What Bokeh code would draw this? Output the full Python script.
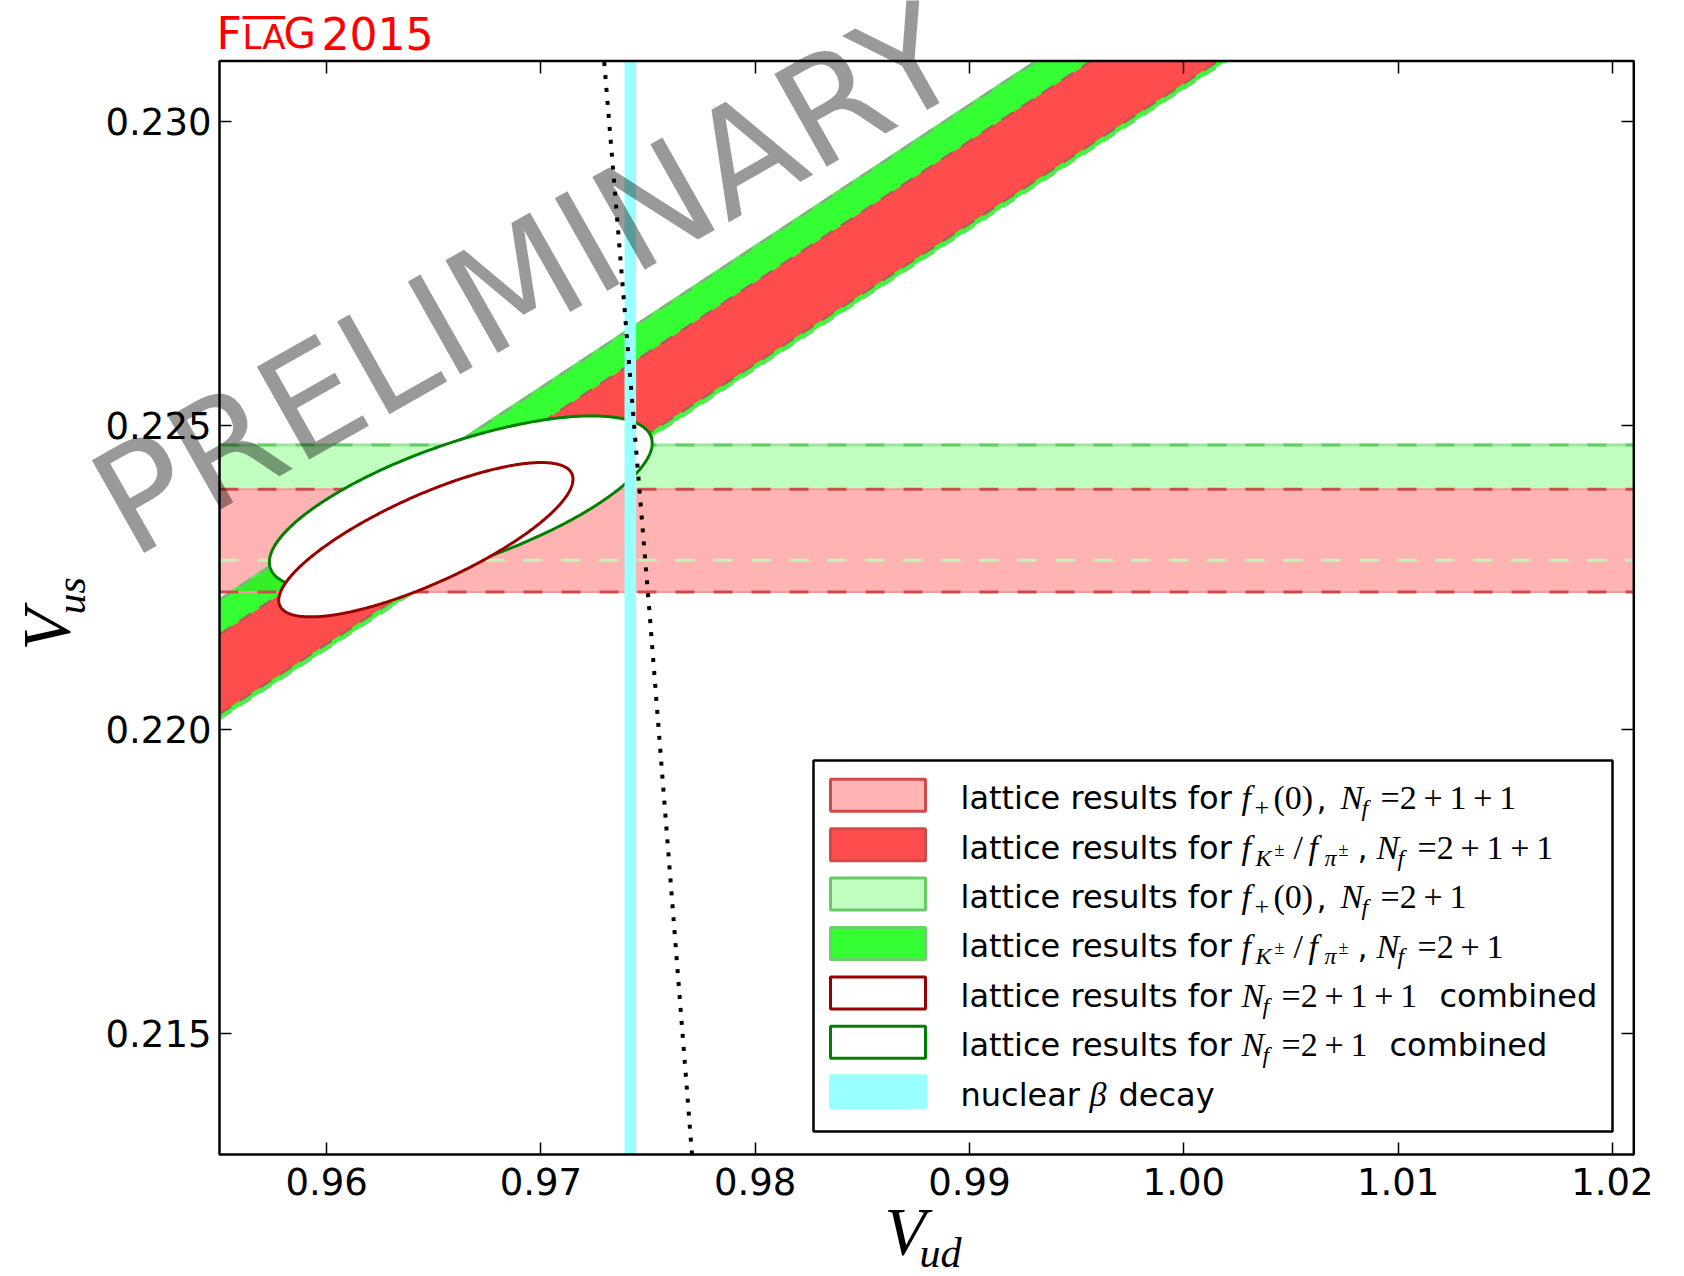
import numpy as np
from bokeh.plotting import figure
from bokeh.models import Range1d, FixedTicker, Label, BoxAnnotation, LinearAxis
from bokeh.embed import file_html
from bokeh.resources import INLINE

# ---------------- data ----------------
x_ticks = [0.96, 0.97, 0.98, 0.99, 1.00, 1.01, 1.02]
x_tick_labels = ["0.96", "0.97", "0.98", "0.99", "1.00", "1.01", "1.02"]
y_ticks = [0.215, 0.220, 0.225, 0.230]
y_tick_labels = ["0.215", "0.220", "0.225", "0.230"]
x_limits = [0.955, 1.021]
y_limits = [0.213, 0.231]

# V_us bands from f+(0)  [lower, upper]
vus_fplus_2p1p1 = [0.22226, 0.22395]
vus_fplus_2p1 = [0.22278, 0.22468]
# V_us / V_ud ratio bands from fK/fpi  [lower, upper]
ratio_fk_2p1 = [0.23054, 0.23260]
ratio_fk_2p1p1 = [0.23063, 0.23200]
# nuclear beta decay V_ud band [lower, upper]
vud_beta = [0.97390, 0.97444]
# combined ellipses: centre V_ud, centre V_us, sigma V_ud, sigma V_us, correlation
ellipse_2p1 = [0.96626, 0.22373, 0.008932, 0.001428, 0.6855]
ellipse_2p1p1 = [0.96463, 0.22312, 0.006866, 0.001270, 0.7837]
# unitarity curve points
unit_vus = [0.213, 0.222, 0.231]
unit_vud = [0.97705, 0.97505, 0.97295]

# ---------------- layout helpers (reference pixel frame) ----------------
REF_L, REF_R, REF_T, REF_B = 219.0, 1633.3, 60.5, 1154.0


def dx(px):
    return x_limits[0] + (px - REF_L) / (REF_R - REF_L) * (x_limits[1] - x_limits[0])


def dy(py):
    return y_limits[1] - (py - REF_T) / (REF_B - REF_T) * (y_limits[1] - y_limits[0])


W, H = 1684, 1276
p = figure(width=W, height=H,
           x_range=Range1d(dx(0), dx(W)), y_range=Range1d(dy(H), dy(0)),
           output_backend="svg", toolbar_location=None,
           min_border=0, min_border_left=0, min_border_right=0,
           min_border_top=0, min_border_bottom=0,
           background_fill_color="white", border_fill_color="white")
p.grid.visible = False
p.outline_line_color = None

for ax, ticks, labels, loc, std in ((p.xaxis[0], x_ticks, x_tick_labels, y_limits[0], 13),
                                    (p.yaxis[0], y_ticks, y_tick_labels, x_limits[0], 8)):
    ax.fixed_location = loc
    ax.ticker = FixedTicker(ticks=ticks)
    ax.major_label_overrides = {t: l for t, l in zip(ticks, labels)}
    ax.major_tick_in = 12
    ax.major_tick_out = 0
    ax.major_tick_line_width = 1.5
    ax.minor_tick_line_color = None
    ax.axis_line_color = None
    ax.major_label_text_font = "DejaVu Sans"
    ax.major_label_text_font_size = "37px"
    ax.major_label_text_color = "black"
    ax.major_label_standoff = std
    ax.axis_label = None

for ticks, side, loc in ((x_ticks, "above", y_limits[1]), (y_ticks, "right", x_limits[1])):
    ax = LinearAxis(ticker=FixedTicker(ticks=ticks), fixed_location=loc,
                    major_tick_in=12, major_tick_out=0,
                    major_tick_line_width=1.5, minor_tick_line_color=None,
                    axis_line_color=None, major_label_text_font_size="0px",
                    major_label_text_color=None)
    p.add_layout(ax, side)

xs = np.array(x_limits)
y_top = y_limits[1]

# horizontal f+(0) bands
p.quad(left=x_limits[0], right=x_limits[1], bottom=vus_fplus_2p1[0], top=vus_fplus_2p1[1],
       fill_color="#c0ffc0", line_color=None)
p.quad(left=x_limits[0], right=x_limits[1], bottom=vus_fplus_2p1p1[0], top=vus_fplus_2p1p1[1],
       fill_color="#ffb3b3", line_color=None)


def band_patch(r_lo, r_hi):
    x0 = x_limits[0]
    return ([x0, y_top / r_lo, y_top / r_hi, x0], [r_lo * x0, y_top, y_top, r_hi * x0])


def ray(r):
    x0 = x_limits[0]
    return [x0, y_top / r], [r * x0, y_top]


# diagonal fK/fpi bands (V_us = r * V_ud), clipped at the top of the frame
bx, by = band_patch(*ratio_fk_2p1)
p.patch(bx, by, fill_color="#00ff00", fill_alpha=0.8, line_color=None)
bx, by = band_patch(*ratio_fk_2p1p1)
p.patch(bx, by, fill_color="#ff4d4d", line_color=None)
p.line(*ray(ratio_fk_2p1[1]), line_color="#55e855", line_width=3)
p.line(*ray(ratio_fk_2p1[1]), line_color="#80b080", line_width=2.5, line_dash="14 10")
p.line(*ray(ratio_fk_2p1p1[1]), line_color="#b85a5a", line_width=2.5, line_dash="14 10")
p.line(*ray(ratio_fk_2p1p1[0]), line_color="#b85a5a", line_width=2.5, line_dash="14 10")
p.line(*ray(ratio_fk_2p1[0]), line_color="#66dd66", line_width=2.5, line_dash="14 10")

# dashed edges of horizontal bands
p.line(xs, [vus_fplus_2p1[1]] * 2, line_color="#9be89b", line_width=3)
p.line(xs, [vus_fplus_2p1[1]] * 2, line_color="#66cc66", line_width=3, line_dash="19 19")
p.line(xs, [vus_fplus_2p1[0]] * 2, line_color="#c4f2b8", line_width=3, line_dash="19 19")
for v in vus_fplus_2p1p1:
    p.line(xs, [v] * 2, line_color="#f59a9a", line_width=2)
    p.line(xs, [v] * 2, line_color="#cc4c4c", line_width=3, line_dash="19 19")

# combined ellipses
t = np.linspace(0, 2 * np.pi, 400)
for ell, col in ((ellipse_2p1, "#008000"), (ellipse_2p1p1, "#990000")):
    cx, cy, sx, sy, rho = ell
    ex = cx + sx * np.cos(t)
    ey = cy + sy * (rho * np.cos(t) + np.sqrt(1 - rho ** 2) * np.sin(t))
    p.patch(ex, ey, fill_color="white", line_color=col, line_width=3)

# nuclear beta decay band
p.quad(left=vud_beta[0], right=vud_beta[1], bottom=y_limits[0], top=y_limits[1],
       fill_color="#99ffff", line_color=None)

# unitarity
p.line(unit_vud, unit_vus, line_color="black", line_width=4, line_dash="4 9")

# frame box
p.add_layout(BoxAnnotation(left=x_limits[0], right=x_limits[1], bottom=y_limits[0], top=y_limits[1],
                           fill_color=None, line_color="black", line_alpha=1, line_width=2.5))

# ---------------- legend (manual, mixed fonts) ----------------
p.add_layout(BoxAnnotation(left=dx(813), right=dx(1612), top=dy(760), bottom=dy(1131),
                           fill_color="white", fill_alpha=1, line_color="black",
                           line_alpha=1, line_width=2.5))
row_c = [794.8 + 49.4 * i for i in range(7)]
swatches = [("#ffb3b3", "#cc4c4c"), ("#ff4d4d", "#cc4c4c"), ("#c0ffc0", "#66cc66"),
            ("#33ff33", "#66d466"), ("white", "#990000"), ("white", "#008000"),
            ("#99ffff", "#99ffff")]
for c, (fc, lc) in zip(row_c, swatches):
    p.add_layout(BoxAnnotation(left=dx(830), right=dx(925), top=dy(c - 16), bottom=dy(c + 16),
                               fill_color=fc, fill_alpha=1, line_color=lc, line_alpha=1,
                               line_width=3))

SANS, SERIF = "DejaVu Sans", "Liberation Serif"
TS = "\u2009"


def txt(px, py, s, font=SANS, style="normal", size=32, color="black", angle=0.0,
        alpha=1.0, level="annotation"):
    # (px, py): alphabetic baseline start in reference pixels; the label is
    # anchored at the middle of its text box, which sits above the baseline.
    k = 0.346 if font == SANS else 0.3375
    sh = k * size
    ax_ = px - sh * np.sin(angle)
    ay_ = py - sh * np.cos(angle)
    lab = Label(x=dx(ax_), y=dy(ay_), text=s, text_font=font, text_font_style=style,
                text_font_size=f"{size}px", text_color=color, text_alpha=alpha,
                angle=angle, text_align="left", text_baseline="middle", level=level)
    p.add_layout(lab)


EQ3 = "=2" + TS + "+" + TS + "1" + TS + "+" + TS + "1"
EQ2 = "=2" + TS + "+" + TS + "1"
frac_row = [("f", 1241, 0, "italic", 34), ("K", 1255, 7, "italic", 24), ("\u00b1", 1274, -3, "normal", 18),
            ("/", 1293, 0, "normal", 34), ("f", 1308, 0, "italic", 34), ("\u03c0", 1324, 7, "italic", 24),
            ("\u00b1", 1338, -3, "normal", 18), (",", 1357, 0, "sans", 32),
            ("N", 1376, 0, "italic", 34), ("f", 1397, 7, "italic", 24)]
fplus_row = [("f", 1241, 0, "italic", 34), ("+", 1254, 7, "normal", 26), ("(0)", 1273, 0, "normal", 34),
             (",", 1316, 0, "sans", 32), ("N", 1340, 0, "italic", 34), ("f", 1361, 7, "italic", 24)]
nf_row = [("N", 1241, 0, "italic", 34), ("f", 1262, 7, "italic", 24)]
rows = [
    fplus_row + [(EQ3, 1380, 0, "normal", 34)],
    frac_row + [(EQ3, 1417, 0, "normal", 34)],
    fplus_row + [(EQ2, 1380, 0, "normal", 34)],
    frac_row + [(EQ2, 1417, 0, "normal", 34)],
    nf_row + [(EQ3, 1281, 0, "normal", 34), ("combined", 1439, 0, "sans", 32)],
    nf_row + [(EQ2, 1281, 0, "normal", 34), ("combined", 1389, 0, "sans", 32)],
]
for c, segs in zip(row_c[:6], rows):
    base = c + 14
    txt(960, base, "lattice results for")
    for s, px, ddy, style, size in segs:
        if style == "sans":
            txt(px, base + ddy, s, size=size)
        else:
            txt(px, base + ddy, s, font=SERIF, style=style, size=size)
base = row_c[6] + 14
txt(960, base, "nuclear")
txt(1089, base, "\u03b2", font=SERIF, style="italic", size=34)
txt(1118, base, "decay")

# ---------------- axis labels ----------------
txt(884, 1253, "V", font=SERIF, style="italic", size=68)
txt(919, 1267, "ud", font=SERIF, style="italic", size=42)
txt(68, 650, "V", font=SERIF, style="italic", size=68, angle=np.pi / 2)
txt(85, 614, "us", font=SERIF, style="italic", size=42, angle=np.pi / 2)

# ---------------- FLAG logo ----------------
txt(216, 48, "F", size=44, color="#ff0000")
txt(242, 48, "LA", size=34, color="#ff0000")
p.add_layout(BoxAnnotation(left=dx(242), right=dx(284.5), top=dy(15.5), bottom=dy(18.8),
                           fill_color="#ff0000", fill_alpha=1, line_color=None))
txt(283, 48, "G", size=42, color="#ff0000")
txt(321, 48, "2015", size=44, color="#ff0000")

# ---------------- watermark ----------------
txt(131, 559, "PRELIMINARY", size=146, color="black", alpha=0.4,
    angle=np.deg2rad(29.5), level="overlay")

open("out.html", "w").write(file_html(p, INLINE))
